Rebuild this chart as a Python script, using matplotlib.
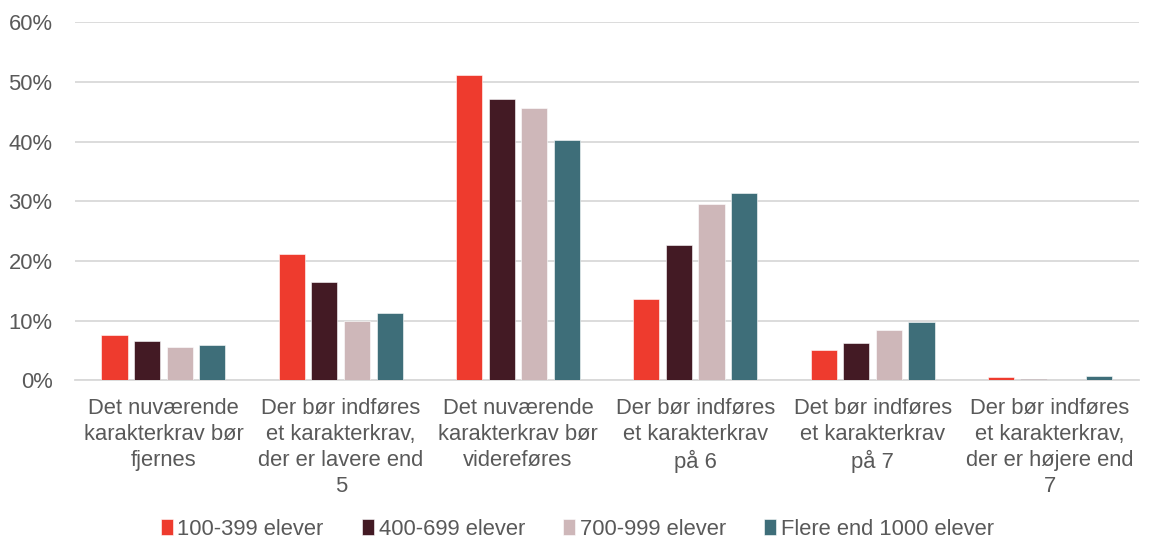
import numpy as np
import matplotlib
matplotlib.use("Agg")
import matplotlib.pyplot as plt
from matplotlib.ticker import PercentFormatter

# ── Data ──────────────────────────────────────────────────────────────────────
categories = [
    "Det nuværende\nkarakterkrav bør\nfjernes",
    "Der bør indføres\net karakterkrav,\nder er lavere end\n5",
    "Det nuværende\nkarakterkrav bør\nvidereføres",
    "Der bør indføres\net karakterkrav\npå 6",
    "Det bør indføres\net karakterkrav\npå 7",
    "Der bør indføres\net karakterkrav,\nder er højere end\n7",
]
series_names = ["100-399 elever", "400-699 elever", "700-999 elever", "Flere end 1000 elever"]
s_100_399 = [7.6, 21.1, 51.1, 13.7, 5.1, 0.5]
s_400_699 = [6.6, 16.4, 47.1, 22.7, 6.2, 0.2]
s_700_999 = [5.6, 9.9, 45.7, 29.5, 8.4, 0.1]
s_1000    = [6.0, 11.2, 40.2, 31.4, 9.7, 0.7]
colors = ["#EE3B2E", "#431A24", "#CEB7B9", "#3E6E79"]

TEXT = "#595959"
FS = 15.8
plt.rcParams["font.family"] = ["Liberation Sans", "DejaVu Sans"]

fig = plt.figure(figsize=(11.5, 5.41), dpi=100)
ax = fig.add_axes([0.065, 0.297, 0.925, 0.662])

x = np.arange(len(categories))
step, width = 0.184, 0.148
for i, (name, vals) in enumerate(zip(series_names, [s_100_399, s_400_699, s_700_999, s_1000])):
    ax.bar(x + (i - 1.5) * step, vals, width, color=colors[i], label=name,
           edgecolor="white", linewidth=0.4, zorder=3)

ax.set_ylim(0, 60)
ax.set_xlim(-0.5, len(categories) - 0.5)
ax.set_yticks(range(0, 61, 10))
ax.yaxis.set_major_formatter(PercentFormatter(decimals=0))
ax.grid(axis="y", color="#D9D9D9", linewidth=1.3, zorder=0)
for s in ["top", "right", "left"]:
    ax.spines[s].set_visible(False)
ax.spines["bottom"].set_color("#D9D9D9")
ax.spines["bottom"].set_linewidth(1.3)
ax.tick_params(axis="both", length=0, labelsize=FS, colors=TEXT)
ax.tick_params(axis="y", pad=16)

# category labels, one line at a time so every line has the same spacing
ax.set_xticks(x)
ax.set_xticklabels([])
for xi, label in zip(x, categories):
    for j, line in enumerate(label.split("\n")):
        ax.annotate(line, xy=(xi, 0), xycoords=("data", "axes fraction"),
                    xytext=(0, -13 - j * 18.6), textcoords="offset points",
                    ha="center", va="top", fontsize=FS, color=TEXT)

leg = fig.legend(loc="center", bbox_to_anchor=(0.502, 0.022), ncol=4, frameon=False,
                 fontsize=FS, handlelength=0.55, handleheight=0.75, handletextpad=0.2,
                 columnspacing=1.75, borderpad=0)
for t in leg.get_texts():
    t.set_color(TEXT)

fig.savefig("out.png", dpi=100)
